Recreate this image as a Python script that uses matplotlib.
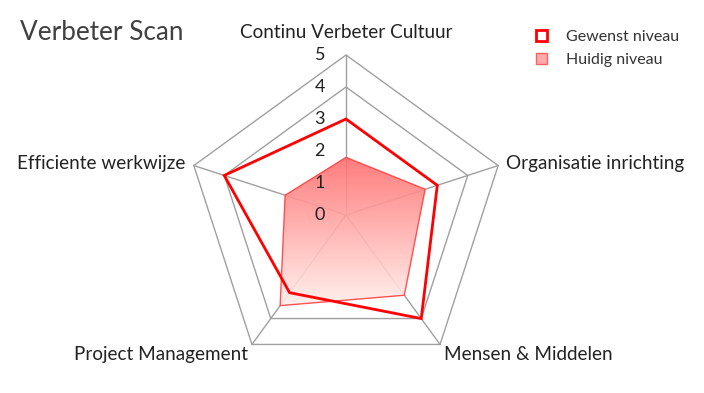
import numpy as np
import matplotlib
matplotlib.use("Agg")
import matplotlib.pyplot as plt
from matplotlib.patches import Polygon, Patch

categories = ["Continu Verbeter Cultuur", "Organisatie inrichting", "Mensen & Middelen",
              "Project Management", "Efficiente werkwijze"]
gewenst = [3, 3, 4, 3, 4]
huidig = [1.8, 2.6, 3.1, 3.5, 2.0]
ticks = [0, 1, 2, 3, 4, 5]

plt.rcParams["font.family"] = ["Lato", "DejaVu Sans"]

W, H = 704, 393
fig = plt.figure(figsize=(W / 100, H / 100), dpi=100)
ax = fig.add_axes([0, 0, 1, 1])
ax.set_xlim(0, W)
ax.set_ylim(H, 0)
ax.axis("off")

cx, cy, unit = 346, 215, 32
angles = np.deg2rad(90 - 72 * np.arange(len(categories)))


def pts(vals):
    v = np.asarray(vals, dtype=float)
    return np.column_stack([cx + v * unit * np.cos(angles), cy - v * unit * np.sin(angles)])


grey = "#a0a0a0"
# rings + spokes
for r in (4, 5):
    p = pts([r] * len(categories))
    ax.add_patch(Polygon(p, closed=True, fill=False, edgecolor=grey, lw=1, zorder=1))
outer = pts([5] * len(categories))
for x, y in outer:
    ax.plot([cx, x], [cy, y], color=grey, lw=1, zorder=1)

# huidig: gradient filled area
hp = pts(huidig)
poly = Polygon(hp, closed=True, facecolor="none", edgecolor="#ff4040", lw=1, alpha=0.9, zorder=3)
ax.add_patch(poly)
y0, y1 = hp[:, 1].min(), hp[:, 1].max()
grad = np.linspace(0, 1, 256)[:, None]
top = np.array([255, 110, 110]) / 255
bot = np.array([255, 240, 236]) / 255
img = top + (bot - top) * grad[..., None]
img = np.repeat(img, 2, axis=1)
im = ax.imshow(img, extent=[hp[:, 0].min(), hp[:, 0].max(), y1, y0], aspect="auto",
               zorder=2, alpha=0.9)
clip = Polygon(hp, closed=True, transform=ax.transData)
im.set_clip_path(clip)

# gewenst line
gp = pts(gewenst)
ax.add_patch(Polygon(gp, closed=True, fill=False, edgecolor="#ff0000", lw=2, zorder=4))

# tick labels
for t in ticks:
    ax.text(cx - 21, cy - t * unit, str(t), ha="right", va="center", fontsize=13,
            color="#222222", zorder=5)

# category labels
lab_pos = [
    (cx, 32, "center", "center"),
    (outer[1][0] + 8, outer[1][1] - 2, "left", "center"),
    (outer[2][0] + 4, outer[2][1] + 10, "left", "center"),
    (outer[3][0] - 4, outer[3][1] + 10, "right", "center"),
    (outer[4][0] - 8, outer[4][1] - 2, "right", "center"),
]
for name, (x, y, ha, va) in zip(categories, lab_pos):
    ax.text(x, y, name, ha=ha, va=va, fontsize=13.6, color="#222222")

ax.text(20, 33, "Verbeter Scan", ha="left", va="center", fontsize=18.8, color="#404040")

handles = [Patch(facecolor="white", edgecolor="#ff0000", lw=2, label="Gewenst niveau"),
           Patch(facecolor="#ffaaaa", edgecolor="#ff6060", lw=1, label="Huidig niveau")]
fig.legend(handles=handles, loc="upper left", bbox_to_anchor=(528 / W, 1 - 22 / H),
           frameon=False, fontsize=11.5, handlelength=0.7, handleheight=0.7,
           handletextpad=1.2, labelspacing=0.55, labelcolor="#333333", borderpad=0)

fig.savefig("out.png", dpi=100)
